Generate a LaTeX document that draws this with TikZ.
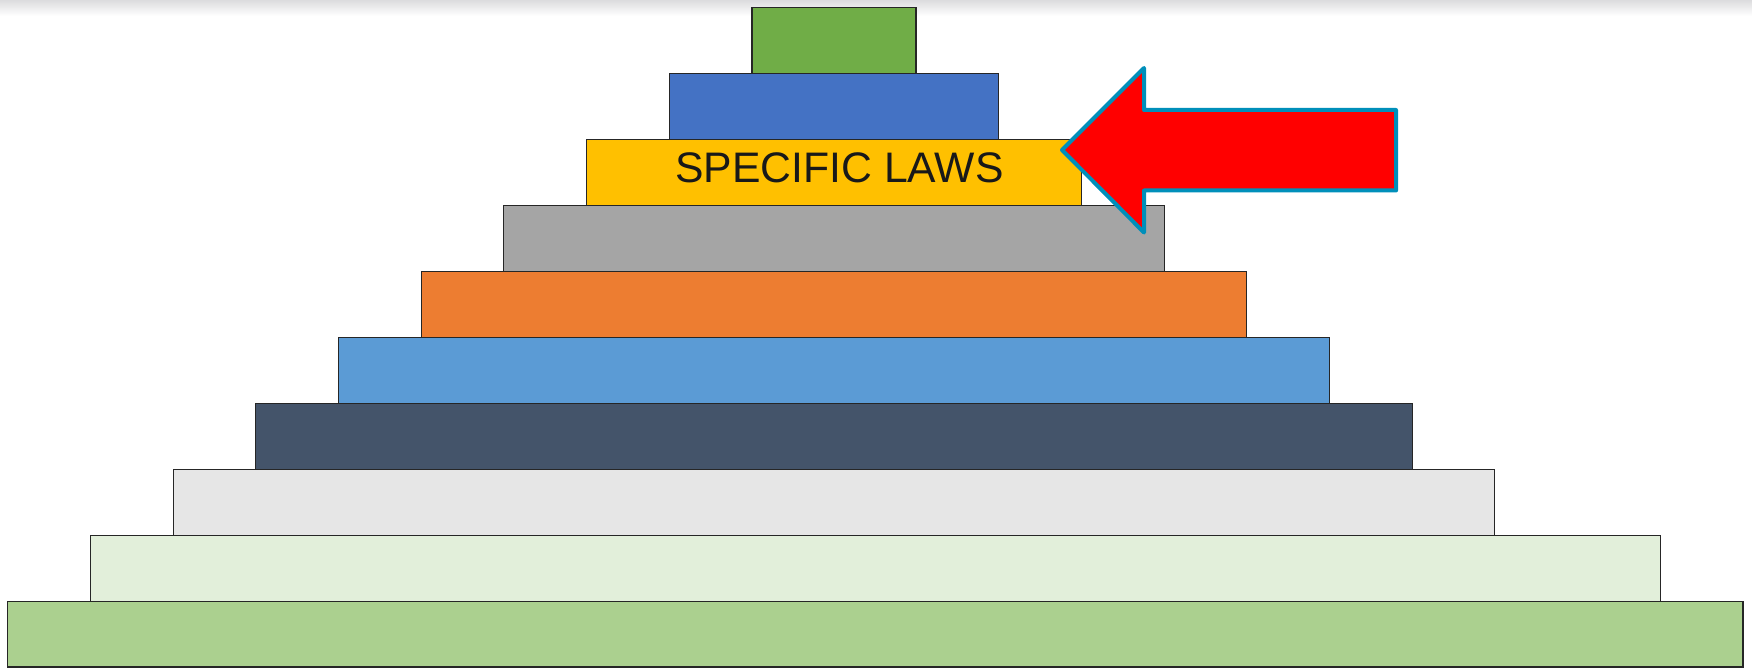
\documentclass[tikz,border=0pt]{standalone}
\usepackage{fontspec}
\setmainfont{Liberation Sans}
\usetikzlibrary{fit}
\definecolor{cA}{HTML}{70AD47}
\definecolor{cB}{HTML}{4472C4}
\definecolor{cC}{HTML}{FFC000}
\definecolor{cD}{HTML}{A5A5A5}
\definecolor{cE}{HTML}{ED7D31}
\definecolor{cF}{HTML}{5B9BD5}
\definecolor{cG}{HTML}{44546A}
\definecolor{cH}{HTML}{E6E6E6}
\definecolor{cI}{HTML}{E2EFDA}
\definecolor{cJ}{HTML}{ABD08F}
\definecolor{arrowline}{RGB}{0,143,186}
\definecolor{shadowgray}{HTML}{DCDCDE}
\tikzset{
  layer/.style={draw=black!85, line width=1.1pt, inner sep=0pt, outer sep=0pt, rectangle},
  bigarrow/.style={draw=arrowline, fill=red, line width=4pt, line join=round},
  label/.style={font=\fontsize{42.7}{44}\selectfont, text=black!90, inner sep=0pt}
}
\begin{document}
\begin{tikzpicture}[x=1pt,y=-1pt]
\useasboundingbox (0,0) rectangle (1752,668);
\shade[top color=shadowgray, bottom color=white] (0,0) rectangle (1752,16);
\node[layer, fill=cA, fit={(752,7.8)(916,73.7)}] (l1) {};
\node[layer, fill=cB, fit={(669.3,73.7)(998.9,139.7)}] (l2) {};
\node[layer, fill=cC, fit={(586.6,139.7)(1081.5,205.6)}] (l3) {};
\node[layer, fill=cD, fit={(503.9,205.6)(1164.2,271.5)}] (l4) {};
\node[layer, fill=cE, fit={(421.2,271.5)(1246.9,337.4)}] (l5) {};
\node[layer, fill=cF, fit={(338.5,337.4)(1329.6,403.3)}] (l6) {};
\node[layer, fill=cG, fit={(255.9,403.3)(1412.3,469.3)}] (l7) {};
\node[layer, fill=cH, fit={(173.2,469.3)(1494.9,535.2)}] (l8) {};
\node[layer, fill=cI, fit={(90.5,535.2)(1660.3,601.1)}] (l9) {};
\node[layer, fill=cJ, fit={(7.8,601.1)(1743,667)}] (l10) {};
\node[label, anchor=base] (t3) at (839.5,182.3) {SPECIFIC LAWS};
\coordinate (tip) at (1062,150);
\coordinate (htop) at (1144,68);
\coordinate (hbot) at (1144,232.5);
\coordinate (stop) at (1144,110);
\coordinate (sbot) at (1144,190.5);
\coordinate (rtop) at (1396,110);
\coordinate (rbot) at (1396,190.5);
\draw[bigarrow] (tip) -- (htop) -- (stop) -- (rtop) -- (rbot) -- (sbot) -- (hbot) -- cycle;
\end{tikzpicture}
\end{document}
